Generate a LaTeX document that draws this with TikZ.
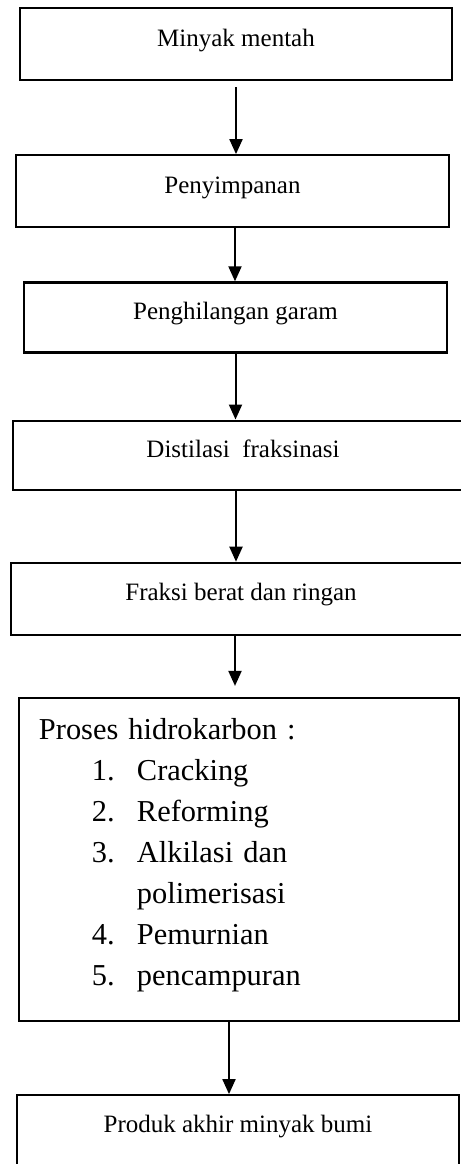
\documentclass[tikz,border=0pt]{standalone}
\usepackage{fontspec}
\setmainfont{Liberation Serif}
\usepackage{tikz}
\usetikzlibrary{positioning, arrows.meta}
\tikzset{>={Triangle[length=7.5pt, width=6.5pt]}}

\begin{document}
\begin{tikzpicture}
    [frame/.style={draw, line width=1.1pt, inner sep=0pt},
      box/.style={frame, text height=8.5pt, text depth=6.5pt,
        font=\fontsize{12.5}{15}\selectfont},
      list/.style={frame, align=left, inner xsep=10pt,
        font=\fontsize{15.2}{20.5}\selectfont},
      flow/.style={->, line width=1pt}]

    \clip (0,0) rectangle (230.5pt,-582pt);

    \node[box, minimum width=216pt, minimum height=36pt]
    (b1) at (118pt,-22pt) {Minyak mentah};
    \node[box, below=36.5pt of b1, xshift=-1.75pt,
      minimum width=216.5pt, minimum height=36pt] (b2) {Penyimpanan};
    \node[box, below=26.5pt of b2, xshift=1.5pt,
      minimum width=211.5pt, minimum height=35pt] (b3) {Penghilangan garam};
    \node[box, below=33pt of b3, xshift=3.75pt,
      minimum width=230pt, minimum height=34.5pt] (b4) {Distilasi\ \ fraksinasi};
    \node[box, below=35.5pt of b4, xshift=-1pt,
      minimum width=230pt, minimum height=36pt] (b5) {Fraksi berat dan ringan};
    \node[list, below=30.5pt of b5, xshift=-1pt, text width=200pt,
      minimum width=220pt, minimum height=161.5pt] (b6)
    {Proses hidrokarbon :\\
      \hspace*{26.5pt}\makebox[22.5pt][l]{1.}Cracking\\
      \hspace*{26.5pt}\makebox[22.5pt][l]{2.}Reforming\\
      \hspace*{26.5pt}\makebox[22.5pt][l]{3.}Alkilasi dan\\
      \hspace*{49pt}polimerisasi\\
      \hspace*{26.5pt}\makebox[22.5pt][l]{4.}Pemurnian\\
      \hspace*{26.5pt}\makebox[22.5pt][l]{5.}pencampuran\rule[-7.5pt]{0pt}{0pt}};
    \node[box, below=36pt of b6, xshift=-0.5pt, text height=8pt, text depth=8pt,
      minimum width=221pt, minimum height=37pt] (b7) {Produk akhir minyak bumi};

    \draw[flow] ([yshift=-3pt]b1.south) -- (b1.south |- b2.north);
    \draw[flow] ([xshift=1.25pt]b2.south) -- ([xshift=1.25pt]b2.south |- b3.north);
    \draw[flow] (b3.south) -- (b3.south |- b4.north);
    \draw[flow] ([xshift=-3.5pt]b4.south) -- ([xshift=-3.5pt]b4.south |- b5.north);
    \draw[flow, shorten >=5.5pt] ([xshift=-3pt]b5.south) -- ([xshift=-3pt]b5.south |- b6.north);
    \draw[flow] ([xshift=-5pt]b6.south) -- ([xshift=-5pt]b6.south |- b7.north);
  \end{tikzpicture}
\end{document}
